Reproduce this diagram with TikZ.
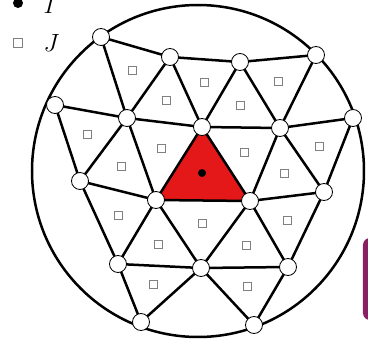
\documentclass[tikz,border=0pt]{standalone}
\usetikzlibrary{calc}
\definecolor{elemred}{RGB}{228,24,24}
\definecolor{boxpurple}{RGB}{138,32,100}
\tikzset{
vertex/.style={
circle,
draw,
fill=white,
line width=.8pt,
minimum size=17pt,
inner sep=0pt
},
cell/.style={
draw=gray,
line width=.7pt,
minimum size=8pt,
inner sep=0pt
},
edge/.style={
line width=2.5pt
}
}

\begin{document}
\begin{tikzpicture}[x=1pt,y=-1pt]
\useasboundingbox (0,0) rectangle (368,348);
\clip (0,0) rectangle (368,348);

% legend
\node[circle, fill, inner sep=0pt, minimum size=10pt] (idot) at (18,3) {};
\node[anchor=base west, font=\fontsize{29}{32}\selectfont] (ilabel) at (40,13) {$I$};
\node[cell, minimum size=9pt] (jsq) at (18,43) {};
\node[anchor=base west, font=\fontsize{29}{32}\selectfont] (jlabel) at (40,52) {$J$};

% domain
\node[circle, draw, line width=2.5pt, minimum size=332pt, inner sep=0pt] (domain) at (198,171) {};

% mesh points
\coordinate (a) at (101,37);
\coordinate (b) at (170,57);
\coordinate (c) at (240,62);
\coordinate (d) at (316,55);
\coordinate (e) at (353,118);
\coordinate (f) at (280,128);
\coordinate (g) at (202,127);
\coordinate (h) at (127,118);
\coordinate (i) at (55,105);
\coordinate (j) at (80,181);
\coordinate (k) at (156,200);
\coordinate (l) at (250,201);
\coordinate (m) at (324,192);
\coordinate (n) at (118,264);
\coordinate (o) at (201,268);
\coordinate (p) at (288,267);
\coordinate (q) at (141,322);
\coordinate (r) at (254,325);

% selected element
\fill[elemred] (g) -- (k) -- (l) -- cycle;

\foreach \s/\t in {a/b, b/c, c/d, a/h, b/h, b/g, c/g, c/f, d/f, f/e,
  g/f, h/g, h/i, i/j, h/j, h/k, g/k, g/l, f/l, f/m, e/m, l/m, k/l,
  j/k, j/n, k/n, k/o, l/o, l/p, m/p, n/o, o/p, n/q, o/q, o/r, p/r}
  \draw[edge, line cap=round] (\s) -- (\t);

\node[circle, fill, inner sep=0pt, minimum size=8pt] (centre) at (202,173) {};

% cell markers
\foreach \x/\y/\z in {a/b/h, b/c/g, b/h/g, c/g/f, c/d/f, i/h/j, h/g/k,
  h/j/k, g/f/l, f/l/m, f/e/m, j/k/n, k/n/o, k/l/o, l/o/p, l/m/p,
  n/o/q, o/p/r}
  \node[cell] (sq-\x\y\z) at (barycentric cs:\x=1,\y=1,\z=1) {};

\foreach \v in {a,b,c,d,e,f,g,h,i,j,k,l,m,n,o,p,q,r}
  \node[vertex] (v-\v) at (\v) {};

% cut-off box at the right
\fill[boxpurple, rounded corners=7pt] (363,238) rectangle (390,320);

\end{tikzpicture}
\end{document}
